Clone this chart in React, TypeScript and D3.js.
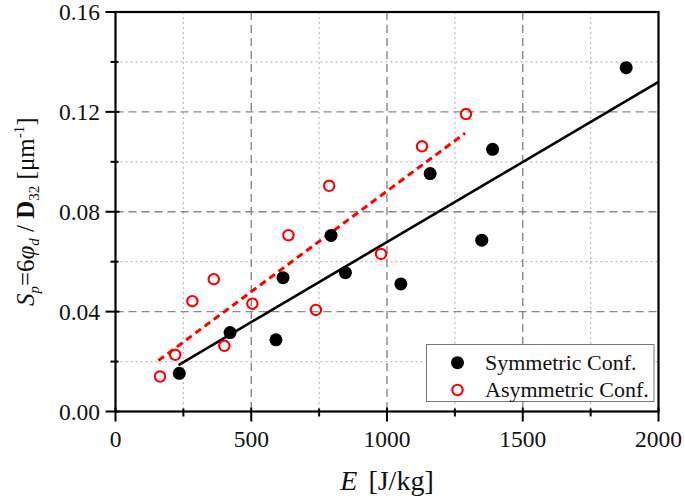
import React from "react";
import * as d3 from "d3";

const symE = [235, 422, 591, 617, 794, 847, 1051, 1159, 1349, 1389, 1881];
const symS = [0.0153, 0.0316, 0.0287, 0.0536, 0.0705, 0.0556, 0.0511, 0.0953, 0.0686, 0.105, 0.1377];
const asymE = [164, 220, 283, 362, 401, 504, 637, 738, 787, 978, 1129, 1291];
const asymS = [0.014, 0.0227, 0.0442, 0.053, 0.0263, 0.0432, 0.0706, 0.0407, 0.0904, 0.0631, 0.1062, 0.1191];
const symFitE = [232, 2000];
const symFitS = [0.0186, 0.132];
const asymFitE = [158, 1288];
const asymFitS = [0.0204, 0.1115];
const xMajor = [0, 500, 1000, 1500, 2000];
const xMinor = [250, 750, 1250, 1750];
const yMajor = [0, 0.04, 0.08, 0.12, 0.16];
const yMinor = [0.02, 0.06, 0.1, 0.14];
const legendLabels = ["Symmetric Conf.", "Asymmetric Conf."];

const W = 685, H = 498;
const L = 115.5, R = 658.5, T = 12, B = 411.5;
const FONT = "'Liberation Serif', serif";

export default function App() {
  const x = d3.scaleLinear().domain([0, 2000]).range([L, R]);
  const y = d3.scaleLinear().domain([0, 0.16]).range([B, T]);
  const line = d3.line<[number, number]>().x(d => x(d[0])).y(d => y(d[1]));
  const symFit = line(symFitE.map((e, i) => [e, symFitS[i]]));
  const asymFit = line(asymFitE.map((e, i) => [e, asymFitS[i]]));
  const fmt = d3.format(".2f");
  return (
    <svg width={W} height={H} style={{ position: "absolute", left: 0, top: 0, background: "#fff" }} fontFamily={FONT}>
      {/* minor grid */}
      {xMinor.map(v => <line key={"xm" + v} x1={x(v)} x2={x(v)} y1={T} y2={B} stroke="#bbb" strokeWidth={1.2} strokeDasharray="2,3" />)}
      {yMinor.map(v => <line key={"ym" + v} x1={L} x2={R} y1={y(v)} y2={y(v)} stroke="#bbb" strokeWidth={1.2} strokeDasharray="2,3" />)}
      {/* major grid */}
      {xMajor.slice(1, -1).map(v => <line key={"xM" + v} x1={x(v)} x2={x(v)} y1={T} y2={B} stroke="#888" strokeWidth={1.4} strokeDasharray="8,5" />)}
      {yMajor.slice(1, -1).map(v => <line key={"yM" + v} x1={L} x2={R} y1={y(v)} y2={y(v)} stroke="#888" strokeWidth={1.4} strokeDasharray="8,5" />)}

      {/* fit lines */}
      <path d={symFit || ""} fill="none" stroke="#000" strokeWidth={2.6} />
      <path d={asymFit || ""} fill="none" stroke="#f00" strokeWidth={3} strokeDasharray="7,4.5" />

      {/* points */}
      {symE.map((e, i) => <circle key={"s" + i} cx={x(e)} cy={y(symS[i])} r={6.5} fill="#000" />)}
      {asymE.map((e, i) => <circle key={"a" + i} cx={x(e)} cy={y(asymS[i])} r={5.2} fill="none" stroke="#f00" strokeWidth={2.1} />)}

      {/* frame */}
      <rect x={L} y={T} width={R - L} height={B - T} fill="none" stroke="#000" strokeWidth={2.2} />

      {/* ticks */}
      {xMajor.map(v => <line key={"xt" + v} x1={x(v)} x2={x(v)} y1={B - 4} y2={B + 10} stroke="#000" strokeWidth={2} />)}
      {xMinor.map(v => <line key={"xtm" + v} x1={x(v)} x2={x(v)} y1={B - 3} y2={B + 5} stroke="#000" strokeWidth={2} />)}
      {yMajor.map(v => <line key={"yt" + v} x1={L - 10} x2={L + 4} y1={y(v)} y2={y(v)} stroke="#000" strokeWidth={2} />)}
      {yMinor.map(v => <line key={"ytm" + v} x1={L - 5} x2={L + 3} y1={y(v)} y2={y(v)} stroke="#000" strokeWidth={2} />)}

      {/* tick labels */}
      {xMajor.map(v => <text key={"xl" + v} x={x(v)} y={447} textAnchor="middle" fontSize={23.5} fill="#111">{v}</text>)}
      {yMajor.map(v => <text key={"yl" + v} x={100} y={y(v) + 8} textAnchor="end" fontSize={23.5} fill="#111">{fmt(v)}</text>)}

      {/* axis titles */}
      <text x={(L + R) / 2} y={490} textAnchor="middle" fontSize={28} fill="#111" wordSpacing={4}>
        <tspan fontStyle="italic">E</tspan>
        <tspan> [J/kg]</tspan>
      </text>
      <text transform={`translate(34, ${(T + B) / 2}) rotate(-90)`} textAnchor="middle" fontSize={25} fill="#111">
        <tspan fontStyle="italic">S</tspan>
        <tspan fontStyle="italic" fontSize={15} dy={5}>p</tspan>
        <tspan dy={-5}>=6</tspan>
        <tspan fontStyle="italic">φ</tspan>
        <tspan fontStyle="italic" fontSize={15} dy={5}>d</tspan>
        <tspan dy={-5}> / </tspan>
        <tspan fontWeight="bold">D</tspan>
        <tspan fontSize={15} dy={5}>32</tspan>
        <tspan dy={-5}> [μm</tspan>
        <tspan fontSize={15} dy={-10}>-1</tspan>
        <tspan dy={10}>]</tspan>
      </text>

      {/* legend */}
      <rect x={426.5} y={344.5} width={227.5} height={57} fill="#fff" stroke="#777" strokeWidth={1} />
      <circle cx={457.5} cy={362.7} r={6.5} fill="#000" />
      <circle cx={457.5} cy={390} r={5.2} fill="none" stroke="#f00" strokeWidth={2.1} />
      <text x={485} y={369.5} fontSize={22} fill="#111">{legendLabels[0]}</text>
      <text x={485} y={397} fontSize={22} fill="#111">{legendLabels[1]}</text>
    </svg>
  );
}
